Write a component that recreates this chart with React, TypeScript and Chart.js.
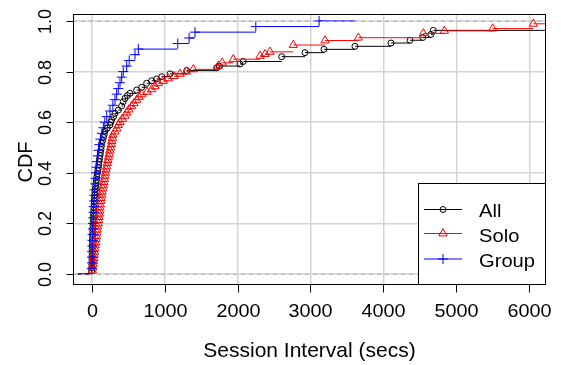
import React, { useEffect, useRef } from 'react';
import { Chart, registerables } from 'chart.js';

Chart.register(...registerables);

// ---------------- data ----------------
const xTicks = [0, 1000, 2000, 3000, 4000, 5000, 6000];
const yTicks = [0, 0.2, 0.4, 0.6, 0.8, 1.0];
const yTickLabels = ['0.0', '0.2', '0.4', '0.6', '0.8', '1.0'];
const seriesNames = ['All', 'Solo', 'Group'];
const xTitle = 'Session Interval (secs)';
const yTitle = 'CDF';

// ECDF step points (session interval in secs, cumulative fraction)
const allX = [0, 1, 2, 3, 4, 5, 6, 7, 8, 9, 10, 12, 13, 15, 16, 18, 20, 22, 24, 26, 28, 30, 33, 36, 39, 42, 45,
  50, 55, 60, 65, 70, 76, 83, 91, 97, 103, 109, 115, 121, 127, 132, 137,
  150, 162, 172, 182, 215, 251, 262, 274, 300, 320, 365, 411, 433, 457, 490, 525, 617, 686, 754, 823,
  891, 960, 1074, 1303, 1714, 1750, 2033, 2079, 2605, 2925, 3185, 3610, 4104, 4365, 4539, 4652, 4684];
const allF = [0.012, 0.024, 0.036, 0.048, 0.06, 0.072, 0.084, 0.096, 0.108, 0.12, 0.132, 0.144, 0.156, 0.168,
  0.18, 0.192, 0.204, 0.216, 0.228, 0.24, 0.252, 0.264, 0.276, 0.288, 0.3, 0.312, 0.324, 0.336, 0.348, 0.36,
  0.372, 0.384, 0.396, 0.408, 0.42, 0.432, 0.444, 0.456, 0.468, 0.48, 0.492, 0.504, 0.516,
  0.528, 0.54, 0.552, 0.564, 0.577, 0.589, 0.6, 0.609, 0.622, 0.635, 0.648, 0.664, 0.681, 0.694, 0.705,
  0.714, 0.727, 0.738, 0.754, 0.764, 0.771, 0.78, 0.791, 0.804, 0.815, 0.822, 0.83, 0.84, 0.859, 0.875,
  0.888, 0.9, 0.913, 0.924, 0.935, 0.947, 0.963];

const soloX = [10, 15, 20, 25, 30, 35, 40, 45, 50, 55, 60, 65, 70, 75, 80, 90, 95, 100, 105, 110,
  115, 120, 125, 130, 138, 145, 152, 160, 168, 175, 182, 190, 198, 206, 214, 222, 230, 240, 250, 260,
  268, 276, 285, 292, 320, 345, 365, 388, 420, 457, 480, 510, 548, 580, 617, 650, 686, 760, 823,
  870, 914, 980, 1050, 1130, 1211, 1300, 1394, 1736, 1790, 1942, 2308, 2377, 2445, 2764, 3200, 3656,
  4547, 4835, 5498, 6055];
const soloF = [0.013, 0.025, 0.038, 0.05, 0.063, 0.075, 0.088, 0.1, 0.113, 0.125, 0.138, 0.15, 0.163, 0.175,
  0.188, 0.2, 0.213, 0.225, 0.238, 0.25, 0.263, 0.275, 0.288, 0.3, 0.313, 0.325, 0.338, 0.35, 0.363, 0.375,
  0.388, 0.4, 0.413, 0.425, 0.438, 0.45, 0.463, 0.475, 0.488, 0.5, 0.513, 0.525, 0.538, 0.55,
  0.563, 0.575, 0.588, 0.6, 0.613, 0.625, 0.638, 0.65, 0.663, 0.675, 0.688, 0.7, 0.71, 0.72, 0.73,
  0.742, 0.754, 0.763, 0.773, 0.782, 0.791, 0.8, 0.809, 0.823, 0.835, 0.849, 0.862, 0.869, 0.878, 0.905,
  0.923, 0.934, 0.951, 0.961, 0.97, 0.989];

const groupX = [1, 3, 5, 7, 9, 11, 13, 16, 19, 22, 25, 29, 33, 38, 42, 48, 55, 60, 68, 75, 85, 95, 105, 120,
  140, 160, 180, 206, 251, 290, 320, 343, 365, 388, 411, 433, 480, 515, 594, 640, 1180, 1336, 1417, 2250, 3118];
const groupF = [0.022, 0.044, 0.067, 0.089, 0.111, 0.133, 0.156, 0.178, 0.2, 0.222, 0.244, 0.267, 0.289,
  0.311, 0.333, 0.356, 0.378, 0.4, 0.422, 0.444, 0.467, 0.489, 0.511, 0.533, 0.556, 0.578, 0.6, 0.622,
  0.644, 0.667, 0.689, 0.711, 0.733, 0.756, 0.778, 0.8, 0.822, 0.844, 0.867, 0.889, 0.911, 0.933, 0.956,
  0.978, 1.0];

// extent of the step functions (left end of F=0 step, right end of last step)
const stepStart = -190;
const allEnd = 7000;
const soloEnd = 7000;
const groupEnd = 3616;

// ---------------- helpers ----------------
const FONT = '"Liberation Sans", Arial, Helvetica, sans-serif';
const COLORS = ['#000000', '#ff0000', '#0000ff'];
const STYLES = ['circle', 'triangle', 'cross'];

function steps(xs: number[], fs: number[], start: number, end: number) {
  const pts: { x: number; y: number | null }[] = [{ x: start, y: 0 }, { x: xs[0], y: 0 }];
  for (let i = 0; i < xs.length; i++) {
    pts.push({ x: xs[i], y: null });
    pts.push({ x: xs[i], y: fs[i] });
    pts.push({ x: i + 1 < xs.length ? xs[i + 1] : end, y: fs[i] });
  }
  return pts;
}
function marks(xs: number[], fs: number[]) {
  return xs.map((x, i) => ({ x, y: fs[i] }));
}

function drawMarker(ctx: CanvasRenderingContext2D, style: string, x: number, y: number, color: string) {
  ctx.save();
  ctx.strokeStyle = color;
  ctx.lineWidth = 1;
  ctx.beginPath();
  if (style === 'circle') {
    ctx.arc(x, y, 3, 0, Math.PI * 2);
  } else if (style === 'triangle') {
    const r = 4.8;
    ctx.moveTo(x, y - r);
    ctx.lineTo(x + r * 0.866, y + r / 2);
    ctx.lineTo(x - r * 0.866, y + r / 2);
    ctx.closePath();
  } else {
    ctx.moveTo(x - 5, y);
    ctx.lineTo(x + 5, y);
    ctx.moveTo(x, y - 5);
    ctx.lineTo(x, y + 5);
  }
  ctx.stroke();
  ctx.restore();
}

function text(ctx: CanvasRenderingContext2D, s: string, x: number, y: number, sx = 1, rot = 0) {
  ctx.save();
  ctx.translate(x, y);
  if (rot) ctx.rotate(rot);
  ctx.scale(sx, 1);
  ctx.fillText(s, 0, 0);
  ctx.restore();
}

const decor = {
  id: 'rdecor',
  afterDatasetsDraw(chart: any) {
    const { ctx, chartArea: ca, scales } = chart;
    const xs = scales.x;
    const ys = scales.y;
    ctx.save();
    // dashed reference lines at 0 and 1
    ctx.strokeStyle = '#b3b3b3';
    ctx.lineWidth = 1;
    ctx.setLineDash([4, 4]);
    for (const v of [0, 1]) {
      const py = Math.round(ys.getPixelForValue(v)) + 0.5;
      ctx.beginPath();
      ctx.moveTo(ca.left, py);
      ctx.lineTo(ca.right, py);
      ctx.stroke();
    }
    ctx.setLineDash([]);

    // box
    ctx.strokeStyle = '#000';
    const L = Math.round(ca.left) + 0.5;
    const T = Math.round(ca.top) + 0.5;
    const R = Math.round(ca.right) - 0.5;
    const B = Math.round(ca.bottom) - 0.5;
    ctx.strokeRect(L, T, R - L, B - T);

    // ticks and labels
    ctx.fillStyle = '#000';
    ctx.font = `18px ${FONT}`;
    ctx.textAlign = 'center';
    ctx.textBaseline = 'alphabetic';
    xTicks.forEach((v) => {
      const px = Math.round(xs.getPixelForValue(v)) + 0.5;
      ctx.beginPath();
      ctx.moveTo(px, B);
      ctx.lineTo(px, B + 8);
      ctx.stroke();
      text(ctx, String(v), px, 317, 1.1);
    });
    yTicks.forEach((v, i) => {
      const py = Math.round(ys.getPixelForValue(v)) + 0.5;
      ctx.beginPath();
      ctx.moveTo(L - 7, py);
      ctx.lineTo(L, py);
      ctx.stroke();
      text(ctx, yTickLabels[i], 50.5, py, 1, -Math.PI / 2);
    });

    // axis titles
    ctx.font = `21px ${FONT}`;
    text(ctx, xTitle, (ca.left + ca.right) / 2, 357);
    ctx.font = `20px ${FONT}`;
    text(ctx, yTitle, 31.5, 162, 1, -Math.PI / 2);

    // legend
    const lx = 418.5, ly = 183.5, lr = R, lb = B;
    ctx.fillStyle = '#fff';
    ctx.fillRect(lx, ly, lr - lx, lb - ly);
    ctx.strokeStyle = '#000';
    ctx.strokeRect(lx, ly, lr - lx, lb - ly);
    const rowY = [209.5, 233.5, 259];
    const baseY = [217, 241.5, 266.5];
    ctx.font = `18px ${FONT}`;
    ctx.textAlign = 'left';
    seriesNames.forEach((name, i) => {
      ctx.strokeStyle = COLORS[i];
      ctx.lineWidth = 1;
      ctx.beginPath();
      ctx.moveTo(424, rowY[i]);
      ctx.lineTo(462, rowY[i]);
      ctx.stroke();
      drawMarker(ctx, STYLES[i], 443, rowY[i], COLORS[i]);
      ctx.fillStyle = '#000';
      text(ctx, name, 479, baseY[i], 1.12);
    });
    ctx.restore();
  },
};

export default function App() {
  const ref = useRef<HTMLCanvasElement>(null);
  useEffect(() => {
    const series = [
      { xs: allX, fs: allF, end: allEnd },
      { xs: soloX, fs: soloF, end: soloEnd },
      { xs: groupX, fs: groupF, end: groupEnd },
    ];
    const datasets: any[] = [];
    series.forEach((s, i) => {
      const base = (2 - i) * 2;
      datasets.push({
        label: seriesNames[i] + ' steps',
        data: steps(s.xs, s.fs, stepStart, s.end),
        showLine: true,
        spanGaps: false,
        borderColor: COLORS[i],
        borderWidth: 1,
        pointRadius: 0,
        order: base + 1,
        clip: 0,
      });
      datasets.push({
        label: seriesNames[i],
        data: marks(s.xs, s.fs),
        showLine: false,
        pointStyle: STYLES[i],
        pointRadius: i === 0 ? 3 : i === 1 ? 4.8 : 5,
        pointBorderColor: COLORS[i],
        pointBackgroundColor: 'rgba(0,0,0,0)',
        pointBorderWidth: 1,
        order: base,
        clip: 0,
      });
    });
    const chart = new Chart(ref.current as HTMLCanvasElement, {
      type: 'scatter',
      data: { datasets },
      plugins: [decor],
      options: {
        responsive: false,
        animation: false,
        events: [],
        layout: { padding: { left: 0, top: 14, right: 15, bottom: 0 } },
        plugins: { legend: { display: false }, tooltip: { enabled: false } },
        scales: {
          x: {
            type: 'linear',
            min: -256,
            max: 6229,
            grid: { color: '#d3d3d3', lineWidth: 1.5, drawTicks: false },
            border: { display: false },
            ticks: { display: false },
            afterBuildTicks: (s: any) => { s.ticks = xTicks.map((v) => ({ value: v })); },
            afterFit: (s: any) => { s.height = 80; },
          },
          y: {
            type: 'linear',
            min: -0.0435,
            max: 1.0277,
            grid: { color: '#d3d3d3', lineWidth: 1.5, drawTicks: false },
            border: { display: false },
            ticks: { display: false },
            afterBuildTicks: (s: any) => { s.ticks = yTicks.map((v) => ({ value: v })); },
            afterFit: (s: any) => { s.width = 73; },
          },
        },
      } as any,
    });
    return () => chart.destroy();
  }, []);
  return (
    <div style={{ position: 'fixed', left: 0, top: 0, width: 561, height: 365, background: '#fff' }}>
      <canvas ref={ref} width={561} height={365} style={{ display: 'block', width: 561, height: 365 }} />
    </div>
  );
}
